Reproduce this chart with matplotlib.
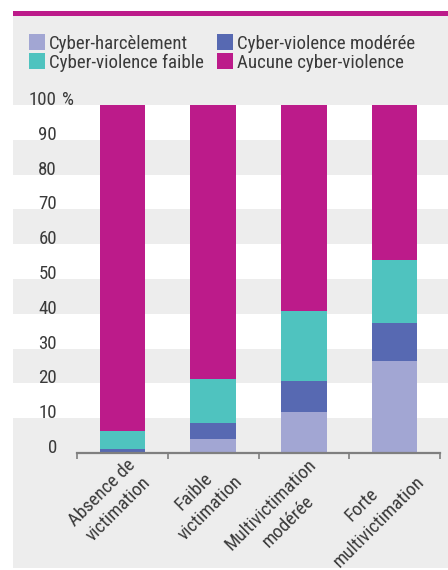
import matplotlib
matplotlib.use('Agg')
import matplotlib.pyplot as plt
import matplotlib.transforms as mtransforms
from matplotlib.patches import Rectangle
import numpy as np

# Data (percent)
categories = ['Absence de\nvictimation', 'Faible\nvictimation',
              'Multivictimation\nmodérée', 'Forte\nmultivictimation']
harcelement = [0.2, 4.0, 11.8, 26.4]
moderee = [0.9, 4.6, 8.9, 11.0]
faible = [5.2, 12.7, 20.1, 18.1]
aucune = [93.7, 78.7, 59.2, 44.5]

series_names = ['Cyber-harcèlement', 'Cyber-violence modérée',
                'Cyber-violence faible', 'Aucune cyber-violence']
series = [harcelement, moderee, faible, aucune]
colors = ['#a2a6d3', '#5769b2', '#4fc3bf', '#bc1b8a']
y_ticks = [0, 10, 20, 30, 40, 50, 60, 70, 80, 90]

plt.rcParams['font.family'] = ['Roboto Condensed', 'DejaVu Sans']
TXT = '#3a3a3a'
FS = 13.6
W, H = 448, 570

fig = plt.figure(figsize=(W / 100, H / 100), dpi=100)
fig.patch.set_facecolor('white')


def fx(px):
    return px / W


def fy(py):
    # py measured from top
    return 1 - py / H


# Gray panel and magenta top line
fig.patches.append(Rectangle((fx(13), fy(568)), fx(W - 13), fy(16) - fy(568),
                             transform=fig.transFigure, facecolor='#ededed',
                             edgecolor='none', zorder=-10))
fig.patches.append(Rectangle((fx(13), fy(16)), fx(W - 13), 5 / H,
                             transform=fig.transFigure, facecolor='#bc1b8a',
                             edgecolor='none', zorder=-9))

ax = fig.add_axes([fx(77), fy(453), fx(440) - fx(77), fy(105) - fy(453)])
ax.patch.set_visible(False)
ax.set_xlim(-0.5, len(categories) - 0.5)
ax.set_ylim(0, 100)

# White horizontal bands spanning the full panel width
band_tr = mtransforms.blended_transform_factory(fig.transFigure, ax.transData)
for lo in [10, 30, 50, 70, 90]:
    ax.add_patch(Rectangle((fx(13), lo), fx(W - 13), 10, transform=band_tr,
                           facecolor='white', edgecolor='none',
                           clip_on=False, zorder=0))

# Stacked bars
x = np.arange(len(categories))
bottom = np.zeros(len(categories))
for vals, c in zip(series, colors):
    ax.bar(x, vals, width=0.5, bottom=bottom, color=c, edgecolor='none', zorder=2)
    bottom += np.array(vals)

# Axis styling
for s in ['top', 'right', 'left']:
    ax.spines[s].set_visible(False)
ax.spines['bottom'].set_color('#7f7f7f')
ax.spines['bottom'].set_linewidth(1.6)
ax.spines['bottom'].set_zorder(3)
ax.set_xticks(np.arange(-0.5, len(categories), 1.0))
ax.set_xticklabels([])
ax.tick_params(axis='x', direction='out', length=4, width=1.2, color='#7f7f7f')
ax.set_yticks([])

# Y labels (baseline on the value)
lab_tr = mtransforms.blended_transform_factory(fig.transFigure, ax.transData)
for v in y_ticks:
    ax.text(fx(57), v, str(v), transform=lab_tr, ha='right', va='baseline',
            fontsize=FS, color=TXT, clip_on=False)
ax.text(fx(57), 100, '100', transform=lab_tr, ha='right', va='baseline',
        fontsize=FS, color=TXT, clip_on=False)
ax.text(fx(62), 100, '%', transform=lab_tr, ha='left', va='baseline',
        fontsize=FS, color=TXT, clip_on=False)

# X labels rotated
xl_tr = mtransforms.blended_transform_factory(ax.transData, ax.transAxes)
for i, cat in enumerate(categories):
    ax.text(i + 0.04, -0.008, cat, transform=xl_tr, rotation=45,
            rotation_mode='anchor', ha='right', va='top', multialignment='center',
            fontsize=FS, color=TXT, linespacing=1.4, clip_on=False)

# Legend (manual)
legend_pos = [(29, 34), (217, 34), (29, 53), (217, 53)]
for name, c, (lx, ly) in zip(series_names, colors, legend_pos):
    fig.patches.append(Rectangle((fx(lx), fy(ly + 16)), fx(16), 16 / H,
                                 transform=fig.transFigure, facecolor=c,
                                 edgecolor='none'))
    fig.text(fx(lx + 20), fy(ly + 8), name, ha='left', va='center_baseline',
             fontsize=FS, color=TXT)

fig.savefig('out.png', dpi=100)
